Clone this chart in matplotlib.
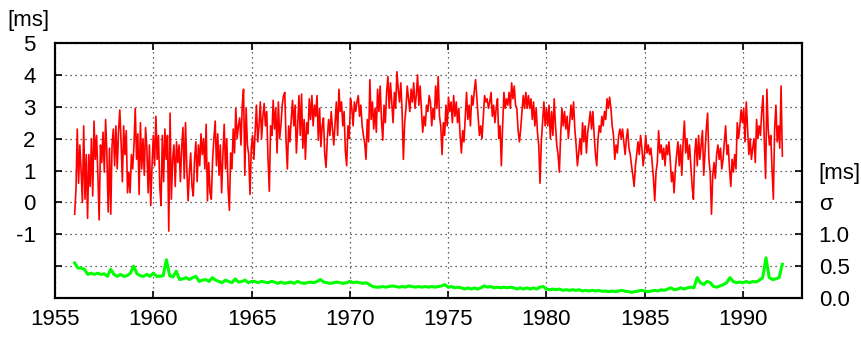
import matplotlib
matplotlib.use("Agg")
import matplotlib.pyplot as plt
import numpy as np

plt.rcParams['font.family'] = ['Liberation Sans', 'DejaVu Sans']

# red series [ms], roughly evenly spaced samples from 1956.0 to 1992.0
red_vals = [
    -0.37, 0.4, 2.3, 0.6, 1.8, 1.0, 0.0, 2.4, 0.1, 1.5, -0.5, 1.5, 0.5, 2.0, 0.2, 2.55, 1.35, 2.1, 0.85, -0.55,
    1.8, 1.25, 2.2, 0.95, 2.6, 1.5, -0.3, 1.7, -0.37, 1.8, 2.3, 1.15, 2.4, 1.05, 2.2, 2.9, 1.9, 0.65, 2.4, 1.5,
    2.25, 0.3, 0.95, 0.3, 1.5, 1.05, 1.8, 2.95, 1.35, 2.15, 0.25, 2.5, 1.05, 2.0, 0.85, 2.35, 1.7, 0.3, 1.8, -0.1,
    1.15, 2.1, 1.15, 2.7, 1.35, 2.1, 0.5, -0.1, 2.1, 0.65, 2.3, 1.35, 2.1, -0.9, 2.8, 0.1, 1.35, 1.8, 0.5, 1.9,
    1.25, 1.8, 0.65, 1.7, 2.35, 0.75, 2.5, 1.05, 0.05, 0.95, 1.55, 0.5, 0.2, 1.35,
    1.9, 0.65, 1.8, 1.15, 2.15, 1.5, 2.0, 1.05, 2.45, 0.05, 1.25, 0.3, 0.1, 1.35, 2.0, 2.55, 1.15, 2.15, 0.85, 1.8,
    0.3, 1.5, 2.45, 1.05, 2.0, 0.45, -0.25, 1.55, 1.05, 2.3, 1.55, 2.95, 2.0, 2.4, 2.65, 1.8, 3.05, 3.55, 0.85, 2.95,
    1.8, 1.5, 0.25, 1.7, 2.1, 1.35, 2.2, 3.05, 1.9, 2.4, 3.15, 2.0, 2.7, 3.1, 2.4, 2.85, 1.35, 0.35, 2.4, 2.1,
    3.2, 2.3, 2.95, 1.55, 3.15, 2.0, 2.4, 3.05, 3.35, 3.45, 1.9, 1.05, 2.4, 1.9, 2.6, 3.2, 2.4, 3.05, 1.55, 2.4,
    3.35, 2.1, 3.4, 1.7, 2.6, 1.35, 2.5, 2.15, 3.25, 2.6, 3.35, 2.4, 3.05,
    2.7, 3.35, 1.95, 2.95, 1.75, 2.4, 2.65, 1.5, 1.1, 2.0, 2.6, 2.1, 2.85, 2.3, 1.8, 2.5, 3.15, 2.1, 3.55, 2.85,
    3.15, 2.4, 2.85, 1.6, 1.15, 2.4, 2.0, 3.25, 2.95, 2.4, 3.15, 2.85, 3.15, 3.35, 2.7, 3.05, 2.4, 2.1, 1.85, 1.35,
    2.6, 1.9, 3.85, 2.6, 3.15, 2.3, 2.95, 2.2, 3.55, 2.85, 3.65, 2.6, 1.95, 3.05, 2.5, 3.45, 3.95, 2.95, 3.75, 3.15,
    2.5, 3.45, 2.95, 4.1, 3.55, 3.15, 3.75, 2.85, 1.35, 2.5, 2.95, 3.65, 3.25, 2.85, 3.55, 3.15, 3.75, 2.95, 3.35, 4.0,
    3.05, 3.65, 2.95, 2.2, 2.7, 2.4, 3.05, 2.85, 3.35, 3.15, 2.4,
    2.95, 2.6, 3.65, 2.95, 3.95, 2.7, 2.4, 1.5, 2.5, 2.1, 3.05, 2.4, 3.3, 2.85, 3.15, 2.5, 3.35, 2.7, 3.15, 2.5,
    2.95, 2.1, 1.55, 2.25, 1.9, 2.7, 3.45, 2.6, 3.05, 2.4, 3.35, 3.05, 3.5, 3.85, 3.25, 2.7, 2.1, 2.4, 2.0, 2.7,
    3.35, 3.15, 3.25, 2.95, 3.15, 3.45, 2.7, 3.05, 2.5, 2.95, 3.25, 2.0, 2.4, 1.15, 2.4, 3.45, 2.95, 3.25, 3.05, 3.45,
    2.95, 3.75, 3.25, 3.65, 3.05, 2.95, 2.25, 1.9, 2.3, 2.85, 3.35, 2.95, 3.45, 2.95, 3.35, 2.95, 3.25, 2.6, 3.15, 2.4,
    2.95, 2.2, 1.8, 0.6, 1.9, 2.5, 3.15, 2.4, 2.95, 2.4, 3.05, 2.0,
    2.85, 2.1, 3.25, 2.4, 1.8, 1.5, 0.95, 2.1, 2.95, 2.4, 2.85, 2.3, 2.7, 2.0, 2.5, 3.05, 2.6, 3.15, 2.3, 1.8,
    1.15, 1.55, 2.0, 1.5, 2.5, 1.9, 2.4, 1.55, 2.2, 2.5, 2.85, 2.3, 2.85, 2.1, 1.5, 1.15, 2.0, 2.4, 2.2, 2.7,
    2.4, 2.85, 2.6, 3.25, 2.95, 3.3, 2.95, 2.4, 2.1, 1.35, 1.8, 1.55, 2.1, 2.3, 2.0, 2.3, 1.9, 1.5, 2.0, 2.3,
    1.7, 1.5, 1.15, 0.85, 0.5, 1.15, 1.5, 1.9, 1.5, 2.1, 1.7, 1.15, 1.5, 2.1, 1.55, 1.8, 1.5, 1.7, 1.25, 0.75,
    0.05, 0.95, 1.25, 2.25, 1.55, 1.8, 1.35, 1.7, 1.15, 1.8, 1.5,
    1.9, 1.35, 0.65, 0.95, 0.3, 1.05, 1.5, 1.9, 1.15, 1.8, 0.85, 1.9, 2.55, 1.55, 2.0, 1.35, 1.8, 1.15, 0.5, 0.1,
    1.5, 2.0, 1.15, 2.1, 1.35, 1.8, 2.25, 0.85, 1.55, 2.3, 2.8, 1.35, 0.95, -0.37, 0.85, 1.25, 0.75, 1.5, 1.8, 1.35,
    1.7, 1.05, 1.35, 1.9, 2.4, 1.5, 1.8, 1.05, 0.5, 1.35, 0.95, 1.5, 1.05, 2.5, 2.0, 2.4, 2.9, 2.5, 2.95, 1.9,
    3.15, 2.3, 1.5, 2.0, 1.35, 1.7, 2.0, 1.25, 2.6, 2.0, 2.4, 2.1, 2.85, 3.35, 1.9, 0.75, 3.55, 2.3, 1.8, 2.1,
    1.05, 0.1, 2.3, 3.05, 1.9, 2.4, 1.7, 3.65, 1.45,
]

# green series sigma [ms], 1956.0 to 1992.0
sigma_vals = [
    0.55, 0.47, 0.47, 0.45, 0.37, 0.39, 0.37, 0.39, 0.37, 0.38, 0.34, 0.45, 0.37, 0.34, 0.37, 0.34, 0.35, 0.39, 0.5, 0.38,
    0.35, 0.34, 0.37, 0.34, 0.39, 0.34, 0.34, 0.35, 0.6, 0.35, 0.33, 0.42, 0.29, 0.3, 0.32, 0.29, 0.32, 0.34, 0.26, 0.28,
    0.29, 0.26, 0.32, 0.28, 0.26, 0.24, 0.28, 0.26, 0.24, 0.3, 0.25, 0.26, 0.28, 0.24, 0.26, 0.26, 0.24, 0.26, 0.25, 0.24,
    0.26, 0.25, 0.23, 0.25, 0.23, 0.24, 0.25, 0.23, 0.26, 0.24, 0.23, 0.24, 0.25, 0.24, 0.26, 0.29, 0.25, 0.24, 0.23, 0.24,
    0.25, 0.24, 0.23, 0.24, 0.26, 0.24, 0.25, 0.24, 0.23, 0.24, 0.21, 0.18, 0.17, 0.17, 0.18, 0.17, 0.18, 0.19, 0.18, 0.17,
    0.18, 0.17, 0.19, 0.18, 0.17, 0.18, 0.17, 0.18, 0.17,
    0.18, 0.17, 0.18, 0.19, 0.21, 0.17, 0.18, 0.16, 0.17, 0.16, 0.14, 0.16, 0.14, 0.16, 0.14, 0.16, 0.19, 0.17, 0.18, 0.16,
    0.17, 0.16, 0.17, 0.16, 0.17, 0.16, 0.14, 0.16, 0.14, 0.16, 0.14, 0.16, 0.14, 0.17, 0.18, 0.14, 0.13, 0.14, 0.13, 0.14,
    0.12, 0.13, 0.12, 0.13, 0.12, 0.13, 0.11, 0.12, 0.11, 0.12, 0.11, 0.12, 0.105, 0.11, 0.10, 0.11, 0.10, 0.11, 0.12, 0.105,
    0.10, 0.09, 0.10, 0.11, 0.12, 0.11, 0.10, 0.11, 0.12, 0.11, 0.13, 0.12, 0.14, 0.16, 0.13, 0.14, 0.16, 0.14, 0.16, 0.17,
    0.16, 0.32, 0.24, 0.21, 0.26, 0.24, 0.18, 0.17, 0.19, 0.21, 0.24, 0.32, 0.26, 0.24, 0.25, 0.24, 0.26, 0.24, 0.26, 0.25,
    0.28, 0.32, 0.63, 0.32, 0.29, 0.3, 0.32, 0.53,
]

red_years = np.linspace(1956.0, 1992.0, len(red_vals))
sigma_years = np.linspace(1956.0, 1992.0, len(sigma_vals))

x_ticks = [1955, 1960, 1965, 1970, 1975, 1980, 1985, 1990]
left_ticks = [-2, -1, 0, 1, 2, 3, 4, 5]
left_labels = ['', '-1', '0', '1', '2', '3', '4', '5']
right_ticks = [0.0, 0.5, 1.0, 1.5, 2.0]
right_labels = ['0.0', '0.5', '1.0', 'σ', '[ms]']

fig = plt.figure(figsize=(8.61, 3.38), dpi=100)
ax = fig.add_axes([0.0639, 0.1183, 0.8676, 0.7545])
ax2 = ax.twinx()

ax.plot(red_years, red_vals, color='#ff0000', lw=1.2)
ax2.plot(sigma_years, sigma_vals, color='#00ff00', lw=2.2)

ax.set_xlim(1955, 1993)
ax.set_ylim(-3, 5)
ax2.set_ylim(0, 4)

ax.set_xticks(x_ticks)
ax.set_yticks(left_ticks)
ax.set_yticklabels(left_labels)
ax2.set_yticks(right_ticks)
ax2.set_yticklabels(right_labels)

ax.grid(True, color='0.2', lw=0.9, linestyle=(0, (1, 3)))
ax.tick_params(axis='both', direction='in', length=5, width=1.2, labelsize=16, top=True)
ax.tick_params(axis='x', pad=8)
ax.tick_params(axis='y', pad=14)
ax2.tick_params(axis='y', direction='in', length=5, width=1.2, labelsize=16, pad=12)

for a in (ax, ax2):
    for s in a.spines.values():
        s.set_linewidth(1.5)

fig.text(0.008, 0.94, '[ms]', fontsize=16, ha='left', va='center')

fig.savefig('out.png', dpi=100)
